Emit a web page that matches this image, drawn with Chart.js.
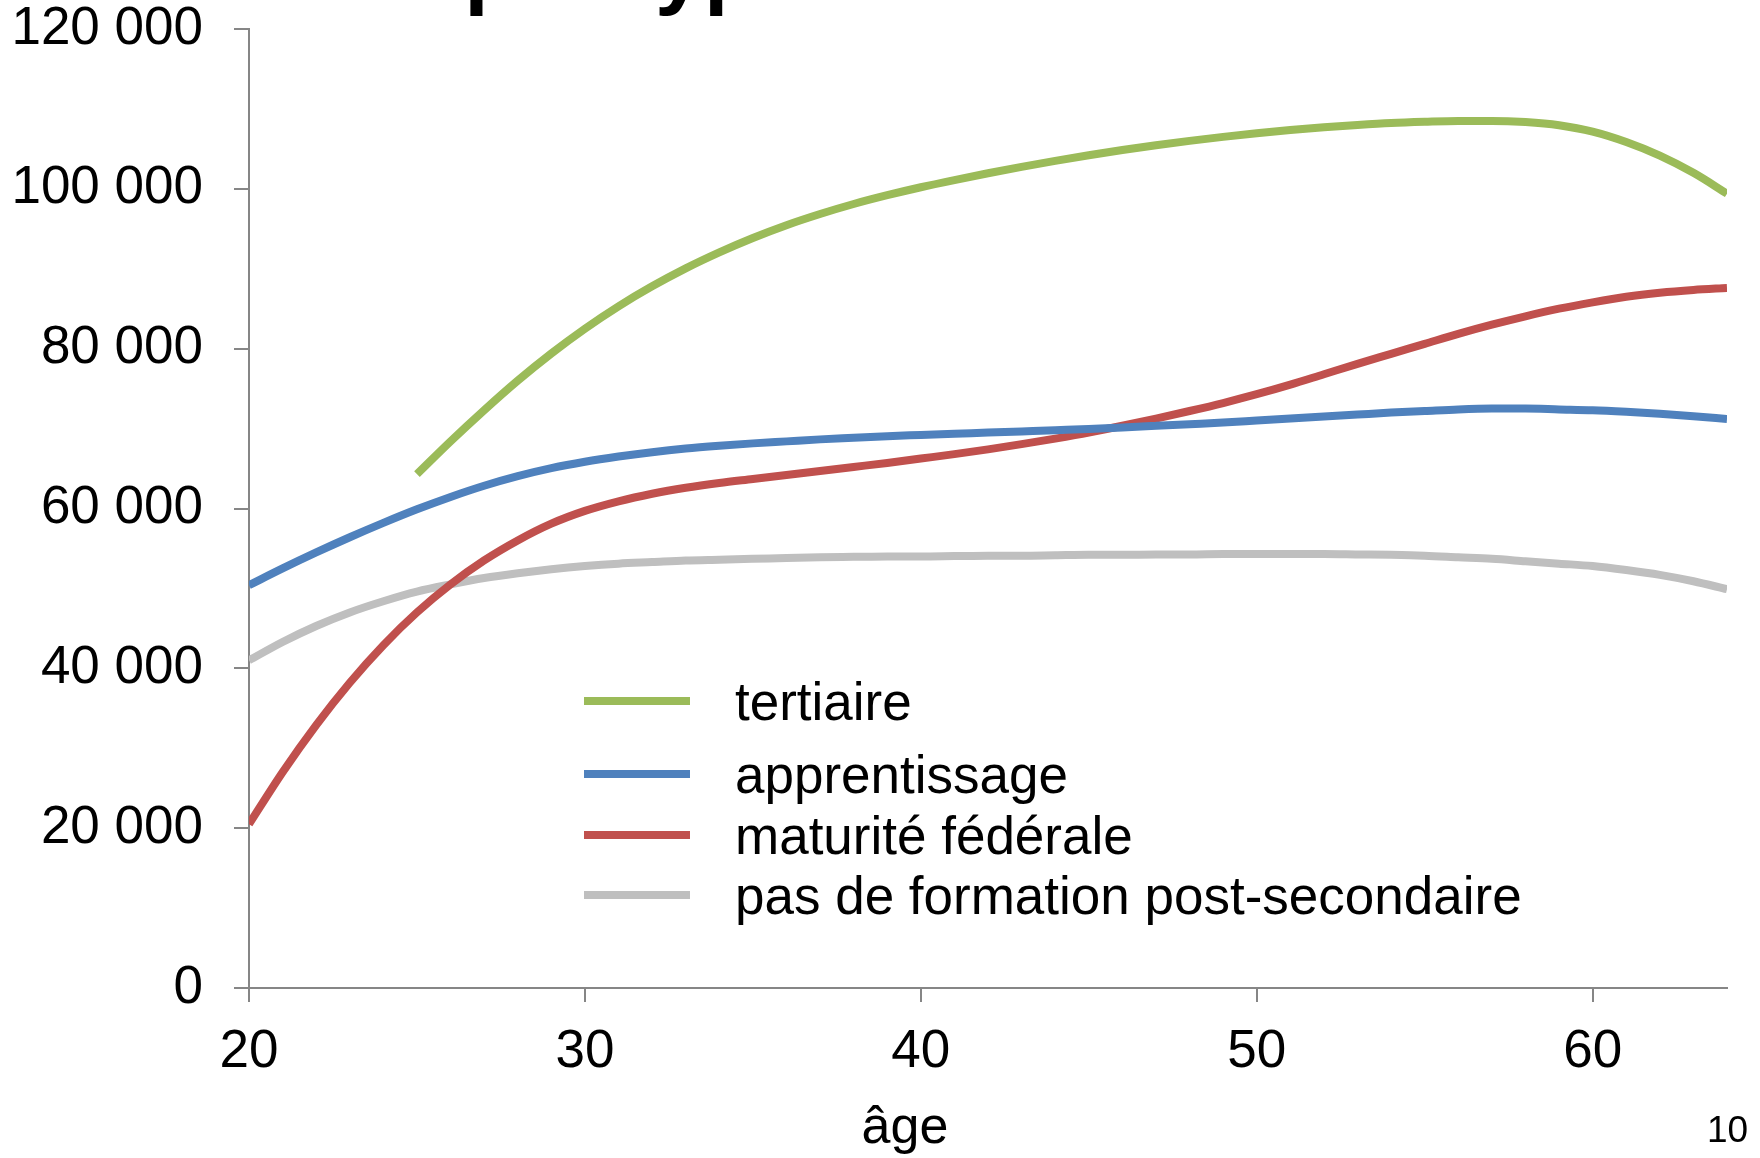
<!DOCTYPE html>
<html>
<head>
<meta charset="utf-8">
<script src="https://cdn.jsdelivr.net/npm/chart.js@4.4.1/dist/chart.umd.min.js"></script>
<style>
  html, body { margin: 0; padding: 0; background: #ffffff; }
  #wrap { position: relative; width: 1760px; height: 1158px; overflow: hidden; font-family: "Liberation Sans", Arial, sans-serif; }
  #c { position: absolute; left: 0; top: 0; }
  #title { position: absolute; top: -82px; left: 0; font-weight: bold; font-size: 88px; line-height: 100px; white-space: nowrap; color: #000; }
  .row { position: absolute; left: 584px; height: 60px; display: flex; align-items: center; font-size: 53px; color: #000; white-space: nowrap; }
  .sw { width: 106px; height: 8px; margin-right: 45px; }
  #xtitle { position: absolute; left: 805px; width: 200px; text-align: center; top: 1099px; font-size: 52px; line-height: 52px; color: #000; }
  #page { position: absolute; left: 1707px; top: 1111px; font-size: 37px; line-height: 37px; color: #000; }
</style>
</head>
<body>
<div id="wrap">
  <canvas id="c" width="1760" height="1158"></canvas>
  <div id="title"><span id="pre">Revenu </span>par type de formation</div>
  <div id="legend"></div>
  <div id="xtitle">âge</div>
  <div id="page">10</div>
</div>
<script>
const ages = [20,21,22,23,24,25,26,27,28,29,30,31,32,33,34,35,36,37,38,39,40,41,42,43,44,45,46,47,48,49,50,51,52,53,54,55,56,57,58,59,60,61,62,63,64];
const seriesNames = ["tertiaire", "apprentissage", "maturité fédérale", "pas de formation post-secondaire"];
const tertiaire = [null,null,null,null,null,64300,68400,72300,76000,79400,82500,85300,87800,90050,92050,93850,95450,96850,98100,99200,100200,101100,101950,102750,103500,104200,104850,105450,106000,106500,106950,107350,107700,108000,108250,108400,108500,108500,108350,107950,107150,105850,104150,102000,99400];
const apprentissage = [50400,52500,54500,56400,58200,59900,61450,62850,64050,65050,65850,66500,67050,67500,67850,68150,68400,68650,68850,69050,69200,69350,69500,69650,69800,69950,70150,70350,70550,70750,71000,71250,71500,71750,72000,72200,72400,72500,72500,72400,72300,72100,71850,71550,71200];
const maturite = [20500,27000,32900,38200,42900,47000,50500,53500,56000,58100,59700,60900,61850,62600,63200,63700,64200,64700,65200,65700,66250,66800,67400,68050,68750,69500,70350,71250,72200,73200,74300,75500,76800,78100,79350,80600,81850,83000,84050,85000,85800,86500,87000,87350,87600];
const sansFormation = [41000,43300,45300,47000,48400,49600,50500,51300,51900,52400,52800,53100,53300,53500,53600,53700,53800,53900,53950,54000,54000,54050,54100,54100,54150,54200,54200,54250,54250,54300,54300,54300,54300,54250,54200,54100,53900,53700,53400,53100,52800,52300,51700,50900,49900];
const yTicks = [0,20000,40000,60000,80000,100000,120000];
const xTicks = [20,30,40,50,60];
const colors = ["#9BBB59", "#4F81BD", "#C0504D", "#BFBFBF"];
const legendTops = [671, 744, 805, 865];

const FONT = '"Liberation Sans", Arial, sans-serif';
const values = [tertiaire, apprentissage, maturite, sansFormation];

const datasets = values.map((arr, i) => ({
  label: seriesNames[i],
  data: ages.map((a, k) => ({x: a, y: arr[k]})),
  borderColor: colors[i],
  backgroundColor: colors[i],
  borderWidth: 8,
  pointRadius: 0,
  cubicInterpolationMode: 'monotone',
  spanGaps: false,
  fill: false,
  order: i
}));

const fmt = v => String(v).replace(/\B(?=(\d{3})+(?!\d))/g, ' ');

new Chart(document.getElementById('c'), {
  type: 'line',
  data: { datasets },
  options: {
    responsive: false,
    animation: false,
    devicePixelRatio: 1,
    layout: { padding: { top: 29, right: 33, bottom: 0, left: 0 } },
    plugins: { legend: { display: false }, tooltip: { enabled: false } },
    scales: {
      x: {
        type: 'linear',
        min: 20, max: 64,
        afterFit: s => { s.height = 170; s.paddingLeft = 0; s.paddingRight = 0; },
        afterBuildTicks: s => { s.ticks = xTicks.map(v => ({value: v})); },
        ticks: { font: { family: FONT, size: 53, lineHeight: 1 }, color: '#000', padding: 24, maxRotation: 0 },
        grid: { drawOnChartArea: false, drawTicks: true, tickLength: 14, color: '#868686', lineWidth: 2 },
        border: { color: '#868686', width: 2 }
      },
      y: {
        type: 'linear',
        min: 0, max: 120000,
        afterFit: s => { s.width = 249; s.paddingTop = 0; s.paddingBottom = 0; },
        afterBuildTicks: s => { s.ticks = yTicks.map(v => ({value: v})); },
        ticks: { font: { family: FONT, size: 53, lineHeight: 1 }, color: '#000', padding: 31, callback: v => fmt(v) },
        grid: { drawOnChartArea: false, drawTicks: true, tickLength: 15, color: '#868686', lineWidth: 2 },
        border: { color: '#868686', width: 2 }
      }
    }
  }
});

const leg = document.getElementById('legend');
seriesNames.forEach((n, i) => {
  const r = document.createElement('div'); r.className = 'row';
  r.style.top = legendTops[i] + 'px';
  const s = document.createElement('div'); s.className = 'sw'; s.style.background = colors[i];
  const t = document.createElement('span'); t.textContent = n;
  r.appendChild(s); r.appendChild(t); leg.appendChild(r);
});
const pre = document.getElementById('pre');
document.getElementById('title').style.left = (464 - pre.offsetWidth) + 'px';
</script>
</body>
</html>
